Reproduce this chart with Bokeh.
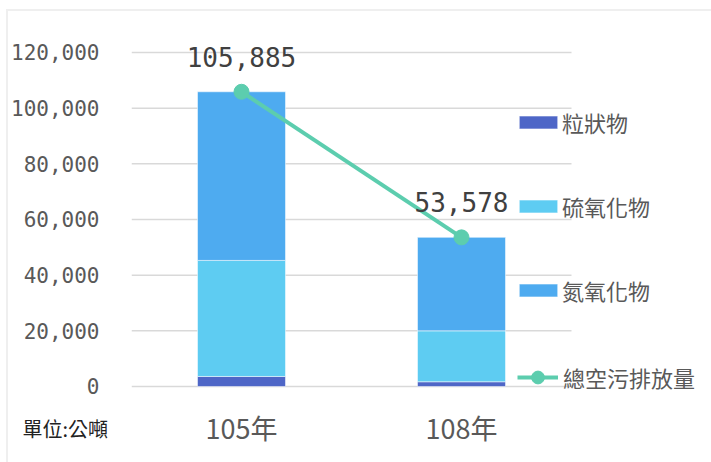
from bokeh.plotting import figure
from bokeh.models import (ColumnDataSource, Range1d, FixedTicker,
                          NumeralTickFormatter, Legend, LegendItem, Label, LabelSet)
from bokeh.core.properties import value
from bokeh.embed import file_html
from bokeh.resources import INLINE

# ---- data ----
years = ["105年", "108年"]
particulate = [3600, 1700]      # 粒狀物
sox = [41700, 18300]            # 硫氧化物
nox = [60585, 33578]            # 氮氧化物
total = [105885, 53578]         # 總空污排放量
y_ticks = [0, 20000, 40000, 60000, 80000, 100000, 120000]
series_names = ["粒狀物", "硫氧化物", "氮氧化物"]
line_name = "總空污排放量"
unit_note = "單位:公噸"

# ---- style ----
colors = ["#4E66C7", "#5ECCF2", "#4EABF0"]
line_color = "#5CCDAE"
cjk = "Noto Sans CJK TC"
mono = "DejaVu Sans Mono"
grid_color = "#D9D9D9"

pos = list(range(len(years)))
source = ColumnDataSource(dict(
    x=pos, year=years, p=particulate, s=sox, n=nox, total=total,
    label=[f"{v:,}" for v in total],
))
grid_src = ColumnDataSource(dict(
    x0=[-0.5] * len(y_ticks), x1=[len(years) - 0.5] * len(y_ticks), y=y_ticks))

p = figure(width=711, height=462,
           x_range=Range1d(-0.5, len(years) - 0.5 + 140 / 220),
           y_range=Range1d(-3593, 124311),
           output_backend="svg", toolbar_location=None,
           min_border_left=131, min_border_right=0,
           min_border_top=40, min_border_bottom=66)
p.outline_line_color = None
p.background_fill_color = "white"
p.border_fill_alpha = 0
p.grid.grid_line_color = None
# faint chart-area border (left and top edges)
p.styles = {
    "background-color": "white",
    "background-image": "linear-gradient(#EFEFEF, #EFEFEF), linear-gradient(#EFEFEF, #EFEFEF)",
    "background-size": "2px 100%, 100% 2px",
    "background-position": "6px 9px, 6px 9px",
    "background-repeat": "no-repeat",
}

# horizontal grid lines limited to the category band
p.segment(x0="x0", x1="x1", y0="y", y1="y", source=grid_src,
          line_color=grid_color, line_width=1.5)

bars = p.vbar_stack(["p", "s", "n"], x="x", width=0.4, color=colors,
                    line_color="white", line_alpha=0.5, line_width=1,
                    source=source)
ln = p.line(x="x", y="total", source=source, line_color=line_color, line_width=4)
pts = p.scatter(x="x", y="total", source=source, size=15,
                fill_color=line_color, line_color=line_color)

labels = LabelSet(x="x", y="total", text="label", source=source,
                  y_offset=25, text_align="center", text_baseline="alphabetic",
                  text_font=value(mono), text_font_size="26px", text_color="#404040")
p.add_layout(labels)

# axes
p.yaxis.ticker = FixedTicker(ticks=y_ticks)
p.yaxis.formatter = NumeralTickFormatter(format="0,0")
p.yaxis.axis_line_color = None
p.yaxis.major_tick_line_color = None
p.yaxis.minor_tick_line_color = None
p.yaxis.major_tick_out = 0
p.yaxis.major_tick_in = 0
p.yaxis.major_label_standoff = 32
p.yaxis.major_label_text_font = mono
p.yaxis.major_label_text_font_size = "21px"
p.yaxis.major_label_text_color = "#595959"

p.xaxis.ticker = FixedTicker(ticks=pos)
p.xaxis.major_label_overrides = {i: y for i, y in zip(pos, years)}
p.xaxis.axis_line_color = None
p.xaxis.major_tick_line_color = None
p.xaxis.minor_tick_line_color = None
p.xaxis.major_tick_out = 0
p.xaxis.major_tick_in = 0
p.xaxis.major_label_standoff = 11
p.xaxis.major_label_text_font = cjk
p.xaxis.major_label_text_font_size = "27px"
p.xaxis.major_label_text_color = "#595959"

# legends
common = dict(orientation="vertical", padding=0, margin=0, label_height=30,
              border_line_color=None, background_fill_alpha=0,
              label_text_font=cjk, label_text_font_size="22px",
              label_text_color="#595959")
bar_items = [LegendItem(label=n, renderers=[r]) for n, r in zip(series_names, bars)]
legend_bars = Legend(items=bar_items, location=(383, 90),
                     glyph_width=48, glyph_height=16, label_standoff=0,
                     spacing=52, **common)
p.add_layout(legend_bars)

legend_line = Legend(items=[LegendItem(label=line_name, renderers=[ln, pts])],
                     location=(386, 3), glyph_width=41, glyph_height=32,
                     label_standoff=5, spacing=0, **common)
p.add_layout(legend_line)

note = Label(x=-109, y=-388, x_units="screen", y_units="screen", text=unit_note,
             text_font=cjk, text_font_size="20px", text_color="#222222",
             text_baseline="middle")
p.add_layout(note, "above")

open("out.html", "w").write(file_html(p, INLINE))
